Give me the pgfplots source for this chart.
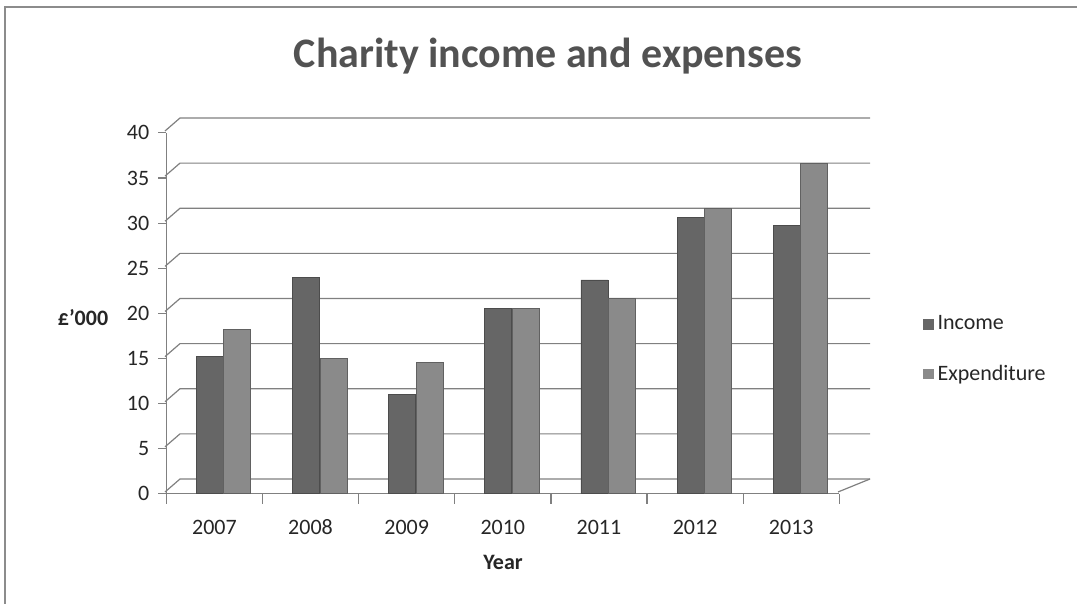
\documentclass[border=0pt]{standalone}
\usepackage{fontspec}
\setmainfont{Carlito}
\usepackage{pgfplots}
\pgfplotsset{compat=1.18}
\pgfplotstableread{
x inc exp
0 15.2 18.2
1 24   15
2 11   14.6
3 20.5 20.5
4 23.7 21.7
5 30.6 31.6
6 29.7 36.6
}\charity
\begin{document}
\begin{tikzpicture}[x=0.5pt,y=0.5pt]
\path[use as bounding box] (0,0) rectangle (1077,604);
\draw[black!45, line width=1pt] (5,0) -- (5,597) -- (1077,597);
\node[font=\bfseries\fontsize{21}{25}\selectfont, text=black!68] at (548,548) {Charity income and expenses};
% back wall grid and connectors (decoration)
\foreach \v in {0,...,8} {
  \draw[black!50, line width=0.6pt] (165,{112+\v*45.125}) -- (180,{125+\v*45.125}) -- (870,{125+\v*45.125});
}
\draw[black!50, line width=0.6pt] (838,112) -- (870,125);
% main axis
\begin{axis}[at={(173,122)}, anchor=south west, scale only axis,
  width=336.5pt, height=180.5pt,
  xmin=-0.5, xmax=6.5, ymin=0, ymax=40,
  ybar, bar width=13.5pt,
  axis x line*=bottom, axis y line*=left,
  axis line style={black!50, line width=0.6pt},
  xtick={0,...,6}, xticklabels={2007,2008,2009,2010,2011,2012,2013},
  minor xtick={-0.5,0.5,...,6.5},
  x tick style={draw=none}, minor x tick style={draw=black!50, line width=0.6pt},
  minor tick length=5pt, major tick length=4pt,
  ytick={0,5,...,40}, y tick style={black!50, line width=0.6pt},
  tick align=outside,
  ticklabel style={font=\fontsize{11}{13}\selectfont, text=black!85},
  xticklabel style={yshift=-5pt, text height=8pt, text depth=0pt},
  yticklabel style={xshift=-1pt},
  /pgf/number format/assume math mode=true,
  legend style={at={(1.115,0.40)}, anchor=west, draw=none, fill=none,
    font=\fontsize{11}{13}\selectfont, row sep=12pt, text=black!85},
  legend cell align=left,
  legend image code/.code={\fill[#1, draw=none] (0pt,-2.6pt) rectangle (5.2pt,2.6pt);},
  ]
\addplot[fill=black!60, draw=black!70, bar shift=-2.25pt] table[x=x, y=inc] {\charity};
\addlegendentry{Income}
\addplot[fill=black!46, draw=black!62, bar shift=11.5pt] table[x=x, y=exp] {\charity};
\addlegendentry{Expenditure}
\end{axis}
\node[font=\bfseries\fontsize{11}{13}\selectfont, text=black!85] at (83,286) {£'000};
\node[font=\bfseries\fontsize{11}{13}\selectfont, text=black!85] at (503,42) {Year};
\end{tikzpicture}
\end{document}
